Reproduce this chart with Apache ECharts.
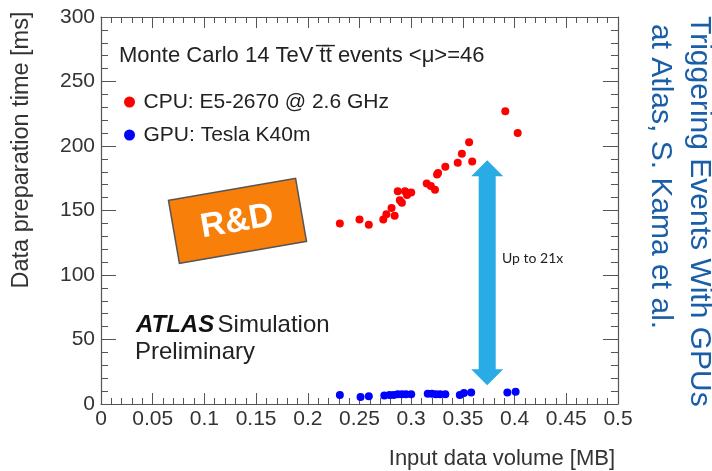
<!DOCTYPE html>
<html>
<head>
<meta charset="utf-8">
<script src="https://cdn.jsdelivr.net/npm/echarts@6/dist/echarts.min.js"></script>
<style>
html,body{margin:0;padding:0;background:#fff;}
#chart{width:712px;height:471px;}
</style>
</head>
<body>
<div id="chart"></div>
<script>
// ---- data ----
var cpuX = [0.231,0.250,0.259,0.273,0.276,0.284,0.281,0.289,0.291,0.287,0.294,0.296,0.300,0.315,0.319,0.323,0.325,0.326,0.333,0.345,0.349,0.356,0.359,0.391,0.403];
var cpuY = [140,143,139,143,147,146,152,158,156,165,165,162,164,171,169,166,178,179,184,187,194,203,188,227,210];
var gpuX = [0.231,0.251,0.259,0.274,0.279,0.283,0.287,0.291,0.295,0.300,0.316,0.320,0.324,0.328,0.333,0.347,0.351,0.358,0.393,0.401];
var gpuY = [7,5.5,6,6.5,7,7,7.5,7.5,7.5,7.5,8,8,7.5,7.5,7.5,7,8.5,9,9,9.5];
var xTicks = [0,0.05,0.1,0.15,0.2,0.25,0.3,0.35,0.4,0.45,0.5];
var yTicks = [0,50,100,150,200,250,300];
var seriesNames = ['CPU: E5-2670 @ 2.6 GHz','GPU: Tesla K40m'];
var arrowX = 0.3735, arrowTop = 189, arrowBottom = 14.5;

function pairs(xs, ys){ return xs.map(function(x,i){ return [x, ys[i]]; }); }

var font = 'Liberation Sans, Arial, Helvetica, sans-serif';
var axisCol = '#555';
var chart = echarts.init(document.getElementById('chart'));

function xAxisDef(pos, show){
  return {
    type:'value', position:pos, min:xTicks[0], max:xTicks[xTicks.length-1], interval:0.05,
    axisLine:{show:true, onZero:false, lineStyle:{color:axisCol, width:1.2}},
    axisTick:{show:true, inside:true, length:11, lineStyle:{color:axisCol}},
    minorTick:{show:true, splitNumber:5, length:6, lineStyle:{color:axisCol}},
    splitLine:{show:false},
    axisLabel:{show:show, color:'#333', fontSize:21, fontFamily:font, margin:5,
      formatter:function(v){ return String(+v.toFixed(2)); }}
  };
}
function yAxisDef(pos, show){
  return {
    type:'value', position:pos, min:yTicks[0], max:yTicks[yTicks.length-1], interval:50,
    axisLine:{show:true, onZero:false, lineStyle:{color:axisCol, width:1.2}},
    axisTick:{show:true, inside:true, length:15, lineStyle:{color:axisCol}},
    minorTick:{show:true, splitNumber:5, length:7, lineStyle:{color:axisCol}},
    splitLine:{show:false},
    axisLabel:{show:show, color:'#333', fontSize:21, fontFamily:font, margin:6}
  };
}

var option = {
  animation:false,
  backgroundColor:'#fff',
  grid:{left:101, right:94, top:17, bottom:67},
  title:{text:'Monte Carlo 14 TeV t\u0305t\u0305 events <\u03bc>=46', left:114, top:40,
    textStyle:{fontSize:22, fontWeight:'normal', color:'#222', fontFamily:font}},
  legend:{left:119, top:86, orient:'vertical', itemGap:11, itemWidth:18, itemHeight:11,
    icon:'circle', data:seriesNames,
    textStyle:{fontSize:21, color:'#222', fontFamily:font, lineHeight:22}},
  xAxis:[xAxisDef('bottom', true), xAxisDef('top', false)],
  yAxis:[yAxisDef('left', true), yAxisDef('right', false)],
  series:[
    {name:seriesNames[0], type:'scatter', symbolSize:8, itemStyle:{color:'#ff0000', opacity:1},
      data:pairs(cpuX, cpuY), z:3},
    {name:seriesNames[1], type:'scatter', symbolSize:8, itemStyle:{color:'#0000ff', opacity:1},
      data:pairs(gpuX, gpuY), z:3}
  ]
};
chart.setOption(option);

var pTop = chart.convertToPixel({xAxisIndex:0, yAxisIndex:0}, [arrowX, arrowTop]);
var pBot = chart.convertToPixel({xAxisIndex:0, yAxisIndex:0}, [arrowX, arrowBottom]);
var cx = pTop[0], yt = pTop[1], yb = pBot[1];
var hw = 16, sw = 8.5, hh = 16;

chart.setOption({
  graphic:[
    {type:'polygon', z:10, shape:{points:[
      [cx, yt],[cx+hw, yt+hh],[cx+sw, yt+hh],[cx+sw, yb-hh],[cx+hw, yb-hh],
      [cx, yb],[cx-hw, yb-hh],[cx-sw, yb-hh],[cx-sw, yt+hh],[cx-hw, yt+hh]]},
      style:{fill:'#29abe6'}},
    {type:'text', z:10, x:502, y:258, style:{text:'Up to 21x', fontSize:14, fontFamily:'Lato, Open Sans, sans-serif',
      fill:'#222', align:'left', verticalAlign:'middle'}},
    {type:'group', x:237, y:221, rotation:0.172, z:10, children:[
      {type:'rect', shape:{x:-64, y:-32, width:129, height:64},
        style:{fill:'#f77f0a', stroke:'#555', lineWidth:1.5}},
      {type:'text', style:{text:'R&D', x:0, y:1, fontSize:34, fontWeight:'bold', fontFamily:font,
        fill:'#fff', align:'center', verticalAlign:'middle'}}
    ]},
    {type:'text', z:10, x:136, y:325, style:{rich:{
        a:{fontSize:24, fontWeight:'bold', fontStyle:'italic', fontFamily:font, fill:'#111'},
        b:{fontSize:24, fontFamily:font, fill:'#222'}},
      text:'{a|ATLAS} {b|Simulation}', verticalAlign:'middle'}},
    {type:'text', z:10, x:135, y:352, style:{text:'Preliminary', fontSize:24, fontFamily:font,
      fill:'#222', verticalAlign:'middle'}},
    {type:'text', z:10, x:22, y:150, rotation:Math.PI/2, style:{text:'Data preparation time [ms]',
      fontSize:23.5, fontFamily:font, fill:'#333', align:'center', verticalAlign:'middle'}},
    {type:'text', z:10, x:615, y:459, style:{text:'Input data volume [MB]',
      fontSize:22, fontFamily:font, fill:'#333', align:'right', verticalAlign:'middle'}},
    {type:'text', z:10, x:714, y:16, rotation:-Math.PI/2, style:{text:'Triggering Events With GPUs',
      fontSize:30, fontFamily:font, fill:'#1a5ea8', align:'left', verticalAlign:'top'}},
    {type:'text', z:10, x:675, y:24, rotation:-Math.PI/2, style:{text:'at Atlas, S. Kama et al.',
      fontSize:30, fontFamily:font, fill:'#1a5ea8', align:'left', verticalAlign:'top'}}
  ]
});
</script>
</body>
</html>
